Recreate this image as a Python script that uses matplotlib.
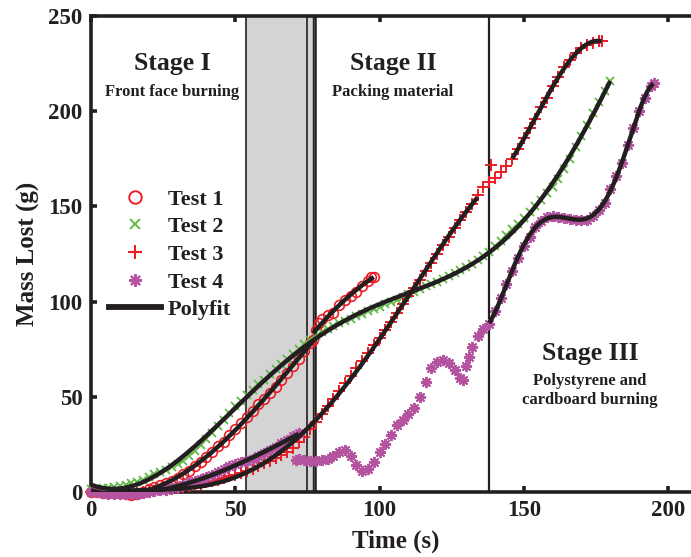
import numpy as np
import matplotlib
matplotlib.use("Agg")
import matplotlib.pyplot as plt
from matplotlib.lines import Line2D

# ---------------- data ----------------
t1_time = list(range(0, 77, 2)) + [77, 78, 79, 80, 82, 84, 86, 88, 90, 92, 94, 96, 97, 98]
t1_mass = [0, 0, -0.3, -0.5, -0.5, -0.7, -1, -1.5, -1, 0, 1.5, 2.5, 3.5, 4.5, 6, 7.5, 9.5, 11,
           13.5, 16, 18.5, 21, 24, 26.5, 30, 33, 36, 39.5, 42.5, 46, 49, 52, 55, 59, 62.5, 66,
           70, 74, 78,
           80, 85, 89, 91, 93, 94, 98, 101, 103, 105, 108, 111, 113, 113]

t2_time = list(range(0, 181, 2))
t2_mass = [1.5, 1.7, 2, 2.3, 2.7, 3.2, 3.8, 4.5, 5.5, 6.5, 8, 9.2, 10.5, 11.8, 13, 14.5, 16.5,
           19, 21.5, 24.5, 28, 31, 34.5, 38, 41.5, 45, 48, 51, 53.5, 56.5, 59, 62, 64.5, 67,
           70, 72.5, 75, 77.5, 80, 82, 84, 85.5, 87, 88.5, 90, 91, 92.5, 93.5, 95, 96, 97,
           98.5, 100, 101, 102.5, 104, 105, 106.5, 108, 109, 110.5, 112, 113.5, 115, 116.5,
           118, 120, 122, 124, 126, 129, 132, 135, 138, 141, 144, 147, 150, 153.5, 157, 160,
           164.5, 169.5, 175, 181, 187, 193, 199, 205, 210.5, 216]

t3_time = list(range(0, 139, 2)) + [138.5] + list(range(140, 177, 2)) + [177]
t3_mass = [0, 0, -0.5, -0.8, -1, -1, -1, -0.8, -0.5, 0, 0.3, 0.6, 1, 1.3, 1.7, 2, 2.5, 3, 3.5,
           4.2, 5, 5.7, 6.5, 7.3, 8.2, 9, 10, 11, 12.2, 13.5, 15, 16.5, 18, 19.5, 21, 23, 26,
           29, 33, 37, 41, 45, 49, 53, 57, 61, 65, 69, 73, 77, 81, 85, 89.5, 94, 98.5, 103,
           107, 111.5, 116, 120.5, 125, 129.5, 134, 138.5, 143, 147, 151, 156, 160, 163,
           172,
           165, 168, 171, 175, 180, 186, 191, 196, 202, 207, 213, 218, 223, 227, 230.5, 233,
           235, 236, 237, 237]

t4a_time = list(range(0, 73, 2))
t4a_mass = [0, 0, -0.5, -1, -1, -1, -1, -1, -0.8, -0.5, 0, 0.3, 0.8, 1.3, 2, 2.8, 3.8, 5, 6, 7,
            8, 9, 10.5, 12, 13.5, 14.5, 15.5, 16.5, 17.5, 19, 20.5, 22, 23.5, 25.5, 27.5, 29.5,
            31]
t4b_time = [71, 72, 74, 76, 78, 80, 82, 84, 86, 88, 90, 92, 94, 96, 98, 100, 102, 104, 106,
            108, 110, 112, 114, 116, 118, 120, 122, 124, 126, 128, 129, 130, 131, 132, 134, 136]
t4b_mass = [17, 17.5, 17, 16.5, 16.5, 17, 17.5, 19, 21, 22, 19, 14, 11, 12, 16, 21, 25, 30, 35,
            38, 41, 44, 50, 58, 65, 68.5, 69.5, 67.5, 64, 60, 59, 66, 71, 76, 82, 85.5]
t4c_time = list(range(138, 195, 2)) + [195]
t4c_mass = [88, 95, 102, 109, 116, 123, 129, 134, 139, 142.5, 144.5, 145, 144.5, 144, 143.5, 143,
            143, 143, 145, 148, 152, 159, 166, 173, 182, 191, 200, 207, 213, 215]

stage_lines = [53.7, 74.8, 76.9, 77.7]
shade_span = (53.7, 76.9)
stage3_line = 138.0

xticks = [0, 50, 100, 150, 200]
yticks = [0, 50, 100, 150, 200, 250]

# ---------------- style ----------------
RED = '#ED1C24'
GREEN = '#62B946'
PURPLE = '#B4539F'
DARK = '#231F20'
FONT = 'Liberation Serif'
ASTER = (8, 2, 0)

plt.rcParams['font.family'] = FONT
plt.rcParams['font.weight'] = 'bold'

fig = plt.figure(figsize=(6.91, 5.57), dpi=100)
W, H = 691, 557
ax = fig.add_axes([91 / W, 1 - 492 / H, (700 - 91) / W, (492 - 16) / H])
ax.set_xlim(0, (700 - 91) / 2.885)
ax.set_ylim(0, 250)

ax.axvspan(*shade_span, color='#D4D4D4', zorder=0, lw=0)
for xv, lw in zip(stage_lines, [1.2, 1.2, 1.0, 1.8]):
    ax.axvline(xv, color=DARK, lw=lw, zorder=1)
ax.axvline(stage3_line, color=DARK, lw=1.6, zorder=1)

mk = dict(linestyle='none', clip_on=False, zorder=3)
ax.plot(t1_time, t1_mass, marker='o', mfc='none', mec=RED, mew=1.2, ms=7, **mk)
ax.plot(t2_time, t2_mass, marker='x', color=GREEN, mew=1.3, ms=6, **mk)
ax.plot(t3_time, t3_mass, marker='+', color=RED, mew=1.4, ms=8, **mk)
for tt, mm in [(t4a_time, t4a_mass), (t4b_time, t4b_mass), (t4c_time, t4c_mass)]:
    ax.plot(tt, mm, marker=ASTER, color=PURPLE, mew=1.4, ms=8, **mk)


def fit_segment(tt, mm, lo, hi, deg):
    tt = np.asarray(tt, float)
    mm = np.asarray(mm, float)
    sel = (tt >= lo) & (tt <= hi)
    p = np.polynomial.Polynomial.fit(tt[sel], mm[sel], deg)
    xs = np.linspace(tt[sel].min(), tt[sel].max(), 200)
    ax.plot(xs, p(xs), color=DARK, lw=3.2, zorder=4, solid_capstyle='butt')


t3_time_fit = [t for t in t3_time if t != 138.5]
t3_mass_fit = [m for t, m in zip(t3_time, t3_mass) if t != 138.5]

fit_segment(t1_time, t1_mass, 0, 77, 4)
fit_segment(t1_time, t1_mass, 77, 98, 2)
fit_segment(t2_time, t2_mass, 0, 180, 6)
fit_segment(t3_time_fit, t3_mass_fit, 0, 135, 4)
fit_segment(t3_time_fit, t3_mass_fit, 146, 177, 3)
fit_segment(t4a_time, t4a_mass, 0, 72, 3)
fit_segment(t4c_time, t4c_mass, 138, 195, 6)

# texts
ax.text(28.1, 225.3, 'Stage I', ha='center', va='center', fontsize=18.5, fontweight='bold', color=DARK)
ax.text(28.1, 210, 'Front face burning', ha='center', va='center', fontsize=12, fontweight='bold', color=DARK)
ax.text(104.7, 225.3, 'Stage II', ha='center', va='center', fontsize=18.5, fontweight='bold', color=DARK)
ax.text(104.7, 210, 'Packing material', ha='center', va='center', fontsize=12, fontweight='bold', color=DARK)
ax.text(173, 73, 'Stage III', ha='center', va='center', fontsize=18.5, fontweight='bold', color=DARK)
ax.text(173, 53.5, 'Polystyrene and\ncardboard burning', ha='center', va='center', fontsize=12,
        fontweight='bold', color=DARK, linespacing=1.25)

# axes style
for s in ax.spines.values():
    s.set_linewidth(2.6)
    s.set_color(DARK)
ax.set_xticks(xticks)
ax.set_yticks(yticks)
ax.tick_params(direction='in', length=4, width=2.6, color=DARK, labelsize=16.5,
               top=True, right=True, pad=6, labelcolor=DARK)
for lab in ax.get_xticklabels() + ax.get_yticklabels():
    lab.set_fontweight('bold')
ax.set_xlabel('Time (s)', fontsize=18, fontweight='bold', color=DARK, labelpad=6)
ax.set_ylabel('Mass Lost (g)', fontsize=18, fontweight='bold', color=DARK, labelpad=6)

handles = [
    Line2D([], [], linestyle='none', marker='o', mfc='none', mec=RED, mew=1.4, ms=9),
    Line2D([], [], linestyle='none', marker='x', color=GREEN, mew=1.4, ms=7),
    Line2D([], [], linestyle='none', marker='+', color=RED, mew=1.5, ms=10),
    Line2D([], [], linestyle='none', marker=ASTER, color=PURPLE, mew=1.6, ms=9),
    Line2D([], [], color=DARK, lw=4.2),
]
labels = ['Test 1', 'Test 2', 'Test 3', 'Test 4', 'Polyfit']
leg = fig.legend(handles, labels, loc='upper left', bbox_to_anchor=(109 / W, 1 - 189 / H),
                 frameon=False, borderpad=0, borderaxespad=0, handlelength=2.35,
                 handletextpad=0.3, labelspacing=0.32, prop={'family': FONT, 'weight': 'bold', 'size': 16})
for txt in leg.get_texts():
    txt.set_color(DARK)

fig.savefig('out.png', dpi=100)
